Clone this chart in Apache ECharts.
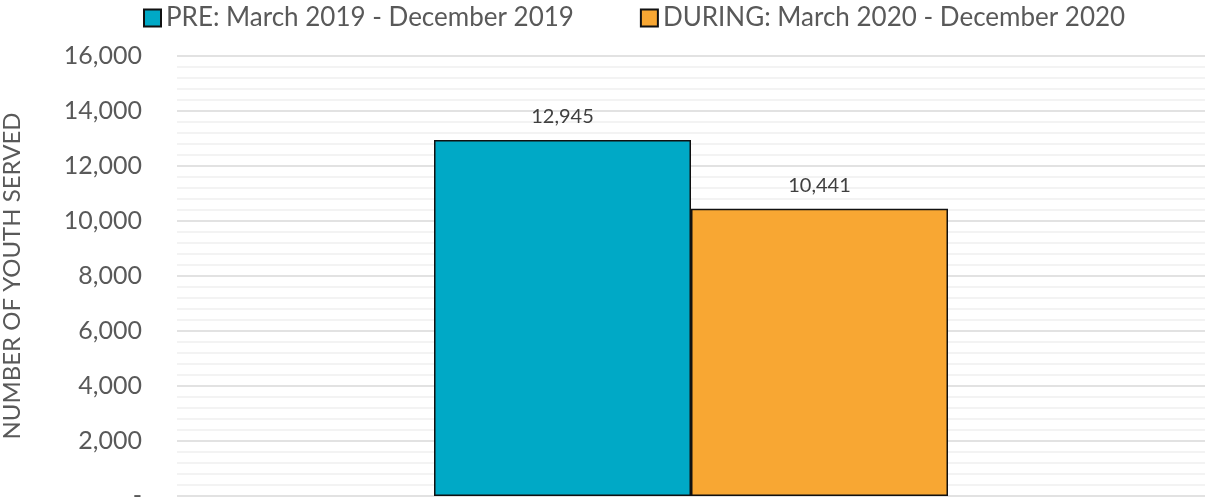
<!DOCTYPE html>
<html><head><meta charset="utf-8">
<script src="https://cdn.jsdelivr.net/npm/echarts@6/dist/echarts.min.js"></script>
<style>html,body{margin:0;padding:0;background:#fff;}#c{width:1209px;height:499px;}</style>
</head><body><div id="c"></div>
<script>
const categories = ['Youth Served'];
const seriesNames = ['PRE: March 2019 - December 2019', 'DURING: March 2020 - December 2020'];
const preValues = [12945];
const duringValues = [10441];
const yAxisName = 'NUMBER OF YOUTH SERVED';
const font = 'Lato, "Open Sans", sans-serif';

const chart = echarts.init(document.getElementById('c'));
const labelCfg = {show: true, position: 'top', distance: 13, color: '#404040', fontSize: 20, fontFamily: font,
  formatter: p => p.value.toLocaleString('en-US')};
chart.setOption({
  animation: false,
  legend: {top: 0, left: 138, itemWidth: 17, itemHeight: 17, itemGap: 66, icon: 'rect',
    textStyle: {fontSize: 26, color: '#595959', fontFamily: font}},
  grid: {left: 177, right: 4, top: 56, bottom: 3, containLabel: false, outerBoundsMode: 'none'},
  xAxis: {type: 'category', data: categories, axisLine: {show: false}, axisTick: {show: false}, axisLabel: {show: false}},
  yAxis: {type: 'value', min: 0, max: 16000, interval: 2000,
    name: yAxisName, nameLocation: 'middle', nameGap: 153, nameRotate: 90,
    nameTextStyle: {fontSize: 24, color: '#595959', fontFamily: font},
    axisLabel: {fontSize: 25, color: '#595959', fontFamily: font, margin: 35,
      formatter: v => v === 0 ? '-' : v.toLocaleString('en-US')},
    splitLine: {lineStyle: {color: '#d9d9d9', width: 1.5}},
    minorTick: {show: false, splitNumber: 5},
    minorSplitLine: {show: true, lineStyle: {color: '#f0f0f0', width: 1.5}}},
  series: [
    {name: seriesNames[0], type: 'bar', data: preValues, barGap: '0%', barCategoryGap: '50%',
      itemStyle: {color: '#00A9C6', borderColor: '#111', borderWidth: 1.5}, label: labelCfg},
    {name: seriesNames[1], type: 'bar', data: duringValues,
      itemStyle: {color: '#F8A733', borderColor: '#111', borderWidth: 1.5}, label: labelCfg}
  ]
});
</script></body></html>
